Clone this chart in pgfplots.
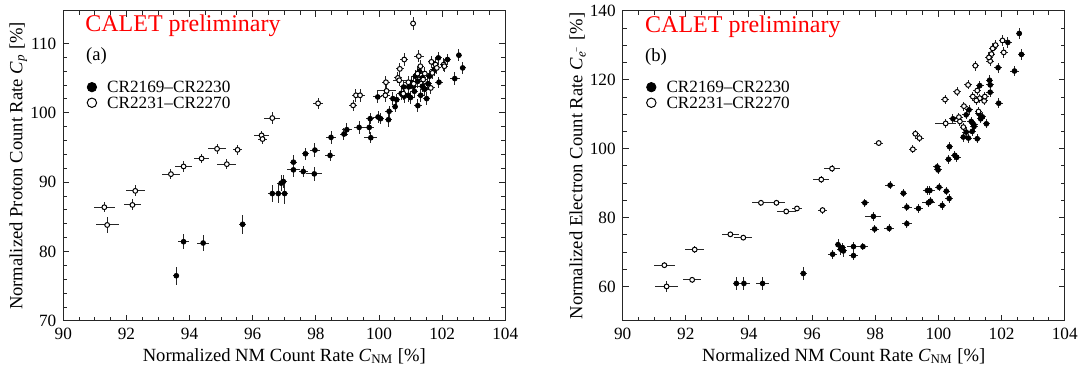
\documentclass[border=0pt]{standalone}
\usepackage{fontspec}
\setmainfont{Liberation Serif}
\usepackage{pgfplots}
\pgfplotsset{compat=1.18}
\usepackage{pgfplotstable}

% ---------------- panel (a): proton ----------------
\pgfplotstableread{
x y ex ey
93.58 76.51 0.10 1.3
93.81 81.42 0.18 1.1
94.43 81.23 0.20 1.2
95.68 83.93 0.12 1.4
96.62 88.36 0.15 1.2
96.81 88.36 0.10 1.4
97.01 88.36 0.10 1.5
96.90 89.86 0.12 1.2
96.97 90.10 0.12 1.0
97.29 91.78 0.20 1.0
97.29 92.89 0.10 1.0
97.60 91.54 0.15 0.8
97.67 94.10 0.12 0.9
97.95 91.20 0.25 1.0
97.97 94.63 0.15 1.0
98.45 93.86 0.15 0.8
98.48 96.46 0.15 0.9
98.89 96.94 0.12 0.9
98.98 97.57 0.15 0.9
99.37 97.90 0.15 0.9
99.69 97.90 0.15 0.9
99.74 96.41 0.20 0.8
99.72 99.16 0.12 0.8
99.97 99.40 0.15 0.9
100.05 99.16 0.12 0.8
100.30 99.01 0.12 1.0
100.32 100.22 0.12 0.8
100.51 100.89 0.10 0.8
100.56 101.90 0.12 0.8
100.44 102.05 0.12 0.9
99.96 102.29 0.15 0.8
100.80 102.39 0.12 0.9
100.93 102.53 0.12 0.9
100.78 103.73 0.12 0.9
100.94 103.73 0.12 0.9
101.09 103.83 0.12 0.8
101.12 103.11 0.12 0.9
101.23 101.04 0.12 0.9
101.32 102.53 0.12 0.9
101.51 102.05 0.12 0.9
101.37 103.83 0.12 0.8
101.23 104.55 0.12 0.9
101.37 105.04 0.12 0.9
101.60 105.28 0.12 0.9
101.90 104.41 0.12 0.8
101.88 107.93 0.12 0.9
102.17 107.69 0.12 0.8
102.40 104.94 0.15 0.9
102.53 108.31 0.10 0.9
102.65 106.48 0.10 0.9
101.02 104.40 0.12 0.9
101.15 105.28 0.12 0.9
101.45 103.40 0.12 0.9
101.00 102.20 0.12 0.9
101.28 106.00 0.12 0.9
100.70 102.80 0.12 0.9
101.55 104.20 0.12 0.9
101.75 106.20 0.12 0.9
102.05 106.90 0.12 0.9
}\protonA

\pgfplotstableread{
x y ex ey
91.30 86.39 0.34 0.7
91.39 83.83 0.36 1.2
92.19 86.72 0.28 0.8
92.28 88.75 0.30 0.8
93.41 91.16 0.28 0.7
93.81 92.27 0.28 0.8
94.38 93.42 0.25 0.7
94.87 94.82 0.28 0.7
95.18 92.60 0.30 0.7
95.52 94.67 0.15 0.7
96.28 96.75 0.25 0.7
96.31 96.22 0.15 0.7
96.62 99.25 0.25 0.8
98.07 101.37 0.15 0.8
99.18 101.08 0.12 0.8
99.27 102.53 0.12 0.9
99.40 102.53 0.15 0.9
100.22 104.41 0.12 0.9
100.24 103.16 0.30 0.8
100.20 102.53 0.15 0.9
100.77 102.77 0.12 0.9
100.60 105.04 0.12 0.8
100.64 104.70 0.20 0.8
100.66 106.34 0.12 0.9
100.80 107.69 0.12 0.9
100.93 104.41 0.15 0.9
101.08 112.89 0.10 0.9
101.26 108.17 0.15 0.9
101.31 106.72 0.12 0.9
101.22 105.66 0.12 0.9
101.45 105.66 0.15 0.9
101.64 103.59 0.12 0.9
101.66 107.35 0.12 0.9
101.69 105.76 0.12 0.9
101.79 106.96 0.12 0.9
101.83 106.48 0.12 0.9
102.05 106.96 0.12 0.9
102.07 106.72 0.12 0.9
101.10 104.20 0.12 0.9
101.40 104.80 0.12 0.9
}\protonB

% ---------------- panel (b): electron ----------------
\pgfplotstableread{
x y ex ey
93.60 60.87 0.10 1.8
93.84 60.87 0.18 1.8
94.43 60.87 0.20 1.8
95.72 63.76 0.12 2.0
96.65 69.35 0.15 1.3
96.82 72.14 0.10 1.6
96.91 70.80 0.12 1.6
96.99 70.31 0.10 1.8
96.96 71.28 0.12 1.3
97.31 71.57 0.20 1.3
97.31 68.96 0.15 1.3
97.61 71.57 0.15 1.0
97.67 84.29 0.12 1.2
97.94 80.34 0.25 1.2
97.98 76.67 0.15 1.2
98.44 76.87 0.15 1.2
98.47 89.40 0.15 1.2
98.89 87.08 0.12 1.2
99.00 83.04 0.15 1.2
99.00 78.22 0.15 1.2
99.37 82.65 0.15 1.2
99.65 87.86 0.15 1.2
99.73 87.86 0.15 1.2
99.68 84.29 0.20 1.2
99.75 84.77 0.12 1.2
99.96 94.70 0.12 1.2
99.99 93.83 0.12 1.2
100.02 88.82 0.12 1.2
100.12 83.52 0.12 1.2
100.25 87.66 0.12 1.2
100.34 85.54 0.12 1.2
100.32 96.92 0.12 1.3
100.35 100.58 0.12 1.3
100.52 98.07 0.12 1.3
100.58 97.49 0.12 1.3
100.46 108.67 0.12 1.3
100.79 103.37 0.12 1.3
100.88 104.82 0.12 1.3
100.95 103.08 0.12 1.3
100.97 111.28 0.12 1.3
100.88 109.83 0.12 1.3
101.07 105.01 0.12 1.3
101.04 107.90 0.12 1.3
101.13 106.46 0.12 1.3
101.23 102.89 0.12 1.3
101.31 118.31 0.12 1.4
101.34 108.67 0.12 1.3
101.39 109.25 0.12 1.3
101.52 107.23 0.12 1.3
101.62 119.86 0.12 1.4
101.64 118.51 0.12 1.4
101.64 116.39 0.12 1.4
101.89 123.52 0.12 1.5
101.91 113.20 0.12 1.4
102.20 130.84 0.12 1.5
102.41 122.55 0.15 1.5
102.56 133.45 0.10 1.6
102.63 127.37 0.10 1.6
101.12 107.00 0.12 1.3
101.28 110.20 0.12 1.3
}\electronA

\pgfplotstableread{
x y ex ey
91.32 66.17 0.34 0.8
91.39 60.00 0.36 1.5
92.20 61.93 0.28 0.8
92.28 70.70 0.30 1.0
93.41 75.13 0.28 0.8
93.82 74.17 0.28 0.8
94.38 84.29 0.30 0.8
94.87 84.29 0.28 0.8
95.18 81.78 0.30 0.8
95.52 82.65 0.15 0.8
96.29 91.04 0.25 1.0
96.33 82.17 0.15 1.0
96.63 94.22 0.25 1.0
98.11 101.64 0.15 1.0
99.19 99.81 0.12 1.2
99.27 104.34 0.12 1.2
99.40 103.08 0.15 1.2
100.21 114.27 0.12 1.2
100.23 107.33 0.33 1.2
100.59 116.48 0.12 1.3
100.65 109.16 0.12 1.2
100.68 107.90 0.20 1.2
100.81 112.34 0.12 1.3
100.79 106.27 0.12 1.2
100.94 118.51 0.12 1.3
101.09 115.13 0.12 1.4
101.17 124.10 0.12 1.5
101.23 116.87 0.12 1.4
101.27 110.80 0.12 1.3
101.31 114.65 0.12 1.3
101.45 113.88 0.12 1.3
101.47 115.13 0.12 1.3
101.64 125.45 0.12 1.5
101.68 127.47 0.12 1.5
101.72 129.11 0.12 1.5
101.81 130.07 0.12 1.5
102.03 131.42 0.12 1.5
102.07 127.95 0.12 1.5
101.20 114.00 0.12 1.3
101.60 126.50 0.12 1.5
}\electronB

\pgfplotsset{
  calet/.style={
    scale only axis, width=221pt, height=155pt,
    axis line style={line width=0.5pt, black!85},
    xmin=90, xmax=104, xtick={90,92,...,104}, minor x tick num=3,
    tick align=inside, xtick pos=both, ytick pos=both,
    major tick length=3pt, minor tick length=2pt,
    every tick/.style={black!85, line width=0.5pt},
    /pgf/number format/assume math mode=true,
    /pgf/number format/1000 sep={},
    tick label style={font=\fontsize{8.6}{10}\selectfont},
    label style={font=\fontsize{9.3}{11}\selectfont},
    xlabel={Normalized NM Count Rate \textit{C}\textsubscript{NM} [\%]},
    xlabel style={at={(axis description cs:0.5,-0.13)}, anchor=base},
    ylabel style={at={(axis description cs:-0.102,0.5)}, anchor=center},
    legend style={at={(axis description cs:0.053,0.774)}, anchor=north west,
      draw=none, fill=none, inner sep=0pt, row sep=2pt,
      font=\fontsize{8.6}{9}\selectfont,
      nodes={inner sep=0pt, text height=5.8pt, text depth=0pt}},
    legend cell align=left,
    legend image code/.code={%
      \path[draw=none, fill=none] (-2.4pt,-2.4pt) rectangle (7.6pt,2.4pt);
      \draw[#1, mark size=2.35pt] plot coordinates {(0pt,0pt)};},
  },
  filledpts/.style={only marks, mark=*, mark size=1.2pt,
    mark options={fill=black, draw=black, line width=0.4pt},
    error bars/.cd, x dir=both, x explicit, y dir=both, y explicit,
    error mark=none, error bar style={line width=0.5pt, black!85}},
  openpts/.style={only marks, mark=*, mark size=1.2pt,
    mark options={fill=white, draw=black, line width=0.5pt},
    error bars/.cd, x dir=both, x explicit, y dir=both, y explicit,
    error mark=none, error bar style={line width=0.5pt, black!85}},
}

\begin{document}
\begin{tikzpicture}
% ---------- (a) ----------
\begin{axis}[calet, at={(0pt,0pt)}, anchor=south west,
  ymin=70, ymax=114.7, ytick={70,80,...,110}, minor y tick num=4,
  ylabel={Normalized Proton Count Rate \textit{C}\textsubscript{\textit{p}} [\%]}]
\addplot[filledpts] table[x=x, y=y, x error=ex, y error=ey] {\protonA};
\addlegendentry{CR2169–CR2230}
\addplot[openpts] table[x=x, y=y, x error=ex, y error=ey] {\protonB};
\addlegendentry{CR2231–CR2270}
\node[anchor=base west, inner sep=0pt, text=red, font=\fontsize{12}{14}\selectfont]
  at (rel axis cs:0.049,0.933) {CALET preliminary};
\node[anchor=west, inner sep=0pt, font=\fontsize{9.3}{11}\selectfont]
  at (rel axis cs:0.051,0.854) {(a)};
\end{axis}
% ---------- (b) ----------
\begin{axis}[calet, at={(279.7pt,0pt)}, anchor=south west,
  ymin=50, ymax=140, ytick={60,80,...,140}, minor y tick num=3,
  extra y ticks={50}, extra y tick labels={},
  ylabel={Normalized Electron Count Rate \textit{C}\textsubscript{\textit{e}\textsuperscript{−}} [\%]}]
\addplot[filledpts] table[x=x, y=y, x error=ex, y error=ey] {\electronA};
\addlegendentry{CR2169–CR2230}
\addplot[openpts] table[x=x, y=y, x error=ex, y error=ey] {\electronB};
\addlegendentry{CR2231–CR2270}
\node[anchor=base west, inner sep=0pt, text=red, font=\fontsize{12}{14}\selectfont]
  at (rel axis cs:0.05,0.930) {CALET preliminary};
\node[anchor=west, inner sep=0pt, font=\fontsize{9.3}{11}\selectfont]
  at (rel axis cs:0.05,0.852) {(b)};
\end{axis}
\pgfresetboundingbox
\path[use as bounding box] (-31.65pt,-24.55pt) rectangle (510.35pt,160.45pt);
\end{tikzpicture}
\end{document}
